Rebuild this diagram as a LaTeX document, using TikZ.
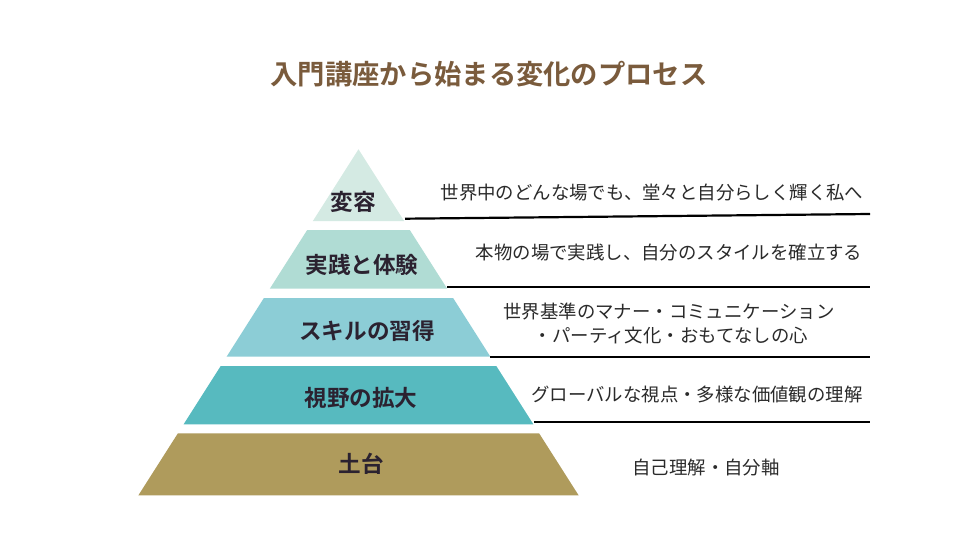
\documentclass[tikz,border=0pt]{standalone}
\usepackage{fontspec}
\setmainfont{Noto Sans CJK JP}
\newfontfamily\jpbold{Noto Sans CJK JP Bold}
\definecolor{tierA}{HTML}{D4EAE3}
\definecolor{tierB}{HTML}{B0DCD4}
\definecolor{tierC}{HTML}{8CCDD6}
\definecolor{tierD}{HTML}{57BABF}
\definecolor{tierE}{HTML}{AF9B5C}
\definecolor{labeltext}{HTML}{2B2230}
\definecolor{titlebrown}{HTML}{7A5B3C}
\definecolor{desctext}{HTML}{2A2A2A}
\tikzset{
  tierlabel/.style={font=\jpbold\fontsize{22.6}{26}\selectfont, text=labeltext, inner sep=0pt},
  desc/.style={font=\fontsize{18.4}{24}\selectfont, text=desctext, inner sep=0pt, align=center},
  rule/.style={line width=2.2pt, draw=black},
}
\begin{document}
\begin{tikzpicture}[x=1pt,y=-1pt]
\useasboundingbox (0,0) rectangle (980,551);
\fill[white] (0,0) rectangle (980,551);
\node[font=\jpbold\fontsize{27.3}{30}\selectfont, text=titlebrown, inner sep=0pt] (title) at (489,74) {入門講座から始まる変化のプロセス};
% tiers
\fill[tierA] (358.5,149.3) -- (404.1,221) -- (312.9,221) -- cycle;
\fill[tierB] (307.2,230) -- (409.8,230) -- (447.2,288.7) -- (269.8,288.7) -- cycle;
\fill[tierC] (263.9,298) -- (453.1,298) -- (490.4,356.7) -- (226.6,356.7) -- cycle;
\fill[tierD] (220.7,366) -- (496.3,366) -- (533.4,424.3) -- (183.6,424.3) -- cycle;
\fill[tierE] (177.9,433.3) -- (539.1,433.3) -- (578.6,495.3) -- (138.4,495.3) -- cycle;
% labels
\node[tierlabel] (l1) at (353,202) {変容};
\node[tierlabel] (l2) at (362,265) {実践と体験};
\node[tierlabel] (l3) at (367,331) {スキルの習得};
\node[tierlabel] (l4) at (361,398) {視野の拡大};
\node[tierlabel] (l5) at (361,464) {土台};
% rules
\coordinate (r1a) at (405,218.7); \coordinate (r1b) at (870,214);
\coordinate (r2a) at (447,286.7); \coordinate (r2b) at (870,286.7);
\coordinate (r3a) at (490,357.3); \coordinate (r3b) at (870,357.3);
\coordinate (r4a) at (534,421.7); \coordinate (r4b) at (870,421.7);
\draw[rule] (r1a) -- (r1b);
\draw[rule] (r2a) -- (r2b);
\draw[rule] (r3a) -- (r3b);
\draw[rule] (r4a) -- (r4b);
% descriptions
\node[desc] (d1) at (652,193) {世界中のどんな場でも、堂々と自分らしく輝く私へ};
\node[desc] (d2) at (669,253) {本物の場で実践し、自分のスタイルを確立する};
\node[desc] (d3a) at (669,311.7) {世界基準のマナー・コミュニケーション};
\node[desc] (d3b) at (671,335.7) {・パーティ文化・おもてなしの心};
\node[desc] (d4) at (697,395) {グローバルな視点・多様な価値観の理解};
\node[desc] (d5) at (706,468) {自己理解・自分軸};
\end{tikzpicture}
\end{document}
